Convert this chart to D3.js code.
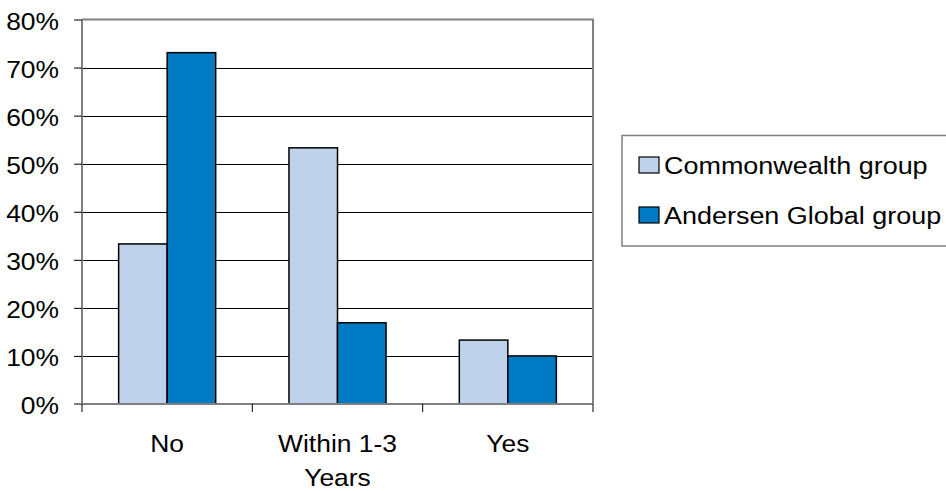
<!DOCTYPE html>
<html><head><meta charset="utf-8">
<script src="https://cdn.jsdelivr.net/npm/d3@7"></script>
<style>body{margin:0;background:#fff}svg{display:block}text{font-family:"Liberation Sans",Arial,sans-serif;fill:#000}</style>
</head><body><svg id="c" width="946" height="491"></svg>
<script>
const categories = ["No", "Within 1-3\nYears", "Yes"];
const seriesNames = ["Commonwealth group", "Andersen Global group"];
const commonwealth = [33.3, 53.3, 13.3];
const andersen = [73.1, 16.9, 10.0];
const yTicks = [0, 10, 20, 30, 40, 50, 60, 70, 80];
const colors = ["#BFD2EB", "#007AC2"];

const svg = d3.select("#c");
const L = 82, R = 593, T = 19.5, B = 404;
const FS = 24, SX = 1.1;
const x = d3.scaleBand().domain(categories).range([L, R]).paddingInner(0).paddingOuter(0);
const y = d3.scaleLinear().domain([0, 80]).range([B, T]);
const sub = d3.scaleBand().domain(seriesNames).range([0, x.bandwidth()]).paddingInner(0).paddingOuter(0.755);

// stretched text helper
function label(parent, tx, ty, anchor, lines, lh, fs) {
  const g = parent.append("g").attr("transform", `translate(${tx},${ty}) scale(${SX},1)`);
  const t = g.append("text").attr("text-anchor", anchor).attr("font-size", fs || FS);
  lines.forEach((s, i) => t.append("tspan").attr("x", 0).attr("y", i * (lh || 0)).text(s));
  return t;
}

// gridlines
svg.append("g").selectAll("line").data(yTicks.filter(d => d > 0 && d < 80)).join("line")
  .attr("x1", L).attr("x2", R).attr("y1", d => Math.round(y(d)) + 0.5).attr("y2", d => Math.round(y(d)) + 0.5)
  .attr("stroke", "#000").attr("stroke-width", 1);

// bars
const data = [commonwealth, andersen];
seriesNames.forEach((s, si) => {
  svg.append("g").selectAll("rect").data(categories).join("rect")
    .attr("x", c => x(c) + sub(s))
    .attr("width", sub.bandwidth())
    .attr("y", (c, i) => y(data[si][i]))
    .attr("height", (c, i) => B - y(data[si][i]))
    .attr("fill", colors[si]).attr("stroke", "#000").attr("stroke-width", 1.5);
});

// plot border top/right
svg.append("path").attr("d", `M${L},${T}H${R}V${B}`).attr("fill", "none").attr("stroke", "#808080").attr("stroke-width", 2);

// y axis
const yAxis = svg.append("g").attr("transform", `translate(${L},0)`)
  .call(d3.axisLeft(y).tickValues(yTicks).tickSize(8).tickFormat(d => d + "%"));
yAxis.select(".domain").attr("stroke", "#808080").attr("stroke-width", 2).attr("d", `M0,${T}V${B}`);
yAxis.selectAll(".tick line").attr("stroke", "#000");
yAxis.selectAll(".tick text").remove();
yAxis.selectAll(".tick").each(function (d) {
  label(d3.select(this), -23, 0.4 * FS, "end", [d + "%"]);
});

// x axis
const xg = svg.append("g");
xg.append("line").attr("x1", L - 8).attr("x2", R).attr("y1", B).attr("y2", B).attr("stroke", "#808080").attr("stroke-width", 2);
const edges = categories.map(c => x(c)).concat([R]);
xg.selectAll("line.t").data(edges).join("line").attr("class", "t")
  .attr("x1", d => d).attr("x2", d => d).attr("y1", B).attr("y2", B + 8).attr("stroke", "#000");
categories.forEach(c => label(xg, x(c) + x.bandwidth() / 2, 452, "middle", c.split("\n"), 34));

// legend
const LFS = 24.5;
const lg = svg.append("g");
lg.append("rect").attr("x", 622).attr("y", 135.5).attr("width", 340).attr("height", 110.5).attr("fill", "#fff").attr("stroke", "#808080").attr("stroke-width", 1.5);
seriesNames.forEach((s, i) => {
  const cy = 165 + i * 50;
  lg.append("rect").attr("x", 639).attr("y", cy - 8).attr("width", 20).attr("height", 16).attr("fill", colors[i]).attr("stroke", "#000").attr("stroke-width", 1.2);
  label(lg, 664, cy + 0.36 * LFS, "start", [s], 0, LFS);
});
</script></body></html>
